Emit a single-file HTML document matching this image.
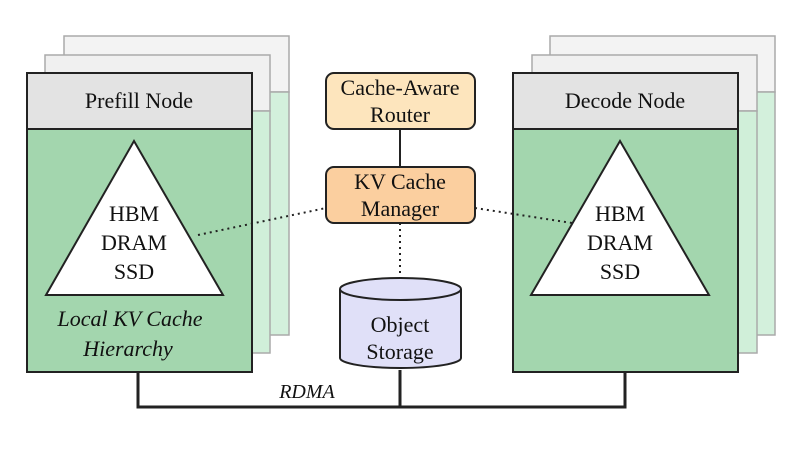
<!DOCTYPE html>
<html><head><meta charset="utf-8"><style>body{margin:0;background:#fff}</style></head><body>
<svg width="800" height="451" viewBox="0 0 800 451" xmlns="http://www.w3.org/2000/svg" font-family="Liberation Serif, serif" font-size="22" fill="#111">
<g stroke="#aaa" stroke-width="1.5">
<rect x="64" y="36" width="225" height="56" fill="#f3f3f3"/><rect x="64" y="92" width="225" height="243" fill="#d3f0dc"/>
<rect x="45" y="55" width="225" height="56" fill="#f0f0f0"/><rect x="45" y="111" width="225" height="242" fill="#d0efd9"/>
<rect x="550" y="36" width="225" height="56" fill="#f3f3f3"/><rect x="550" y="92" width="225" height="243" fill="#d3f0dc"/>
<rect x="532" y="55" width="225" height="56" fill="#f0f0f0"/><rect x="532" y="111" width="225" height="242" fill="#d0efd9"/>
</g>
<g stroke="#222" stroke-width="2">
<rect x="27" y="73" width="225" height="56" fill="#e3e3e3"/><rect x="27" y="129" width="225" height="243" fill="#a3d6ae"/>
<rect x="513" y="73" width="225" height="56" fill="#e3e3e3"/><rect x="513" y="129" width="225" height="243" fill="#a3d6ae"/>
<polygon points="134,141 46,295 223,295" fill="#fff"/>
<polygon points="620,141 531,295 709,295" fill="#fff"/>
</g>
<g fill="none" stroke="#222" stroke-width="3">
<polyline points="138,372 138,407 625,407 625,372"/>
<line x1="400" y1="370" x2="400" y2="407"/>
</g>
<line x1="400" y1="129" x2="400" y2="167" stroke="#222" stroke-width="2"/>
<g stroke="#222" stroke-width="2" stroke-dasharray="2,4" fill="none">
<line x1="198" y1="235" x2="326" y2="208"/>
<line x1="475" y1="208" x2="572" y2="223"/>
<line x1="400" y1="223" x2="400" y2="278"/>
</g>
<rect x="326" y="73" width="149" height="56" rx="8" fill="#fde5bd" stroke="#222" stroke-width="2"/>
<rect x="326" y="167" width="149" height="56" rx="8" fill="#fbcf9f" stroke="#222" stroke-width="2"/>
<path d="M340,289 L340,358 A60.5,10 0 0 0 461,358 L461,289" fill="#e0e0f8" stroke="#222" stroke-width="2"/>
<ellipse cx="400.5" cy="289" rx="60.5" ry="11" fill="#e0e0f8" stroke="#222" stroke-width="2"/>
<g text-anchor="middle">
<text x="139" y="108">Prefill Node</text>
<text x="625" y="108">Decode Node</text>
<text x="134" y="221">HBM</text><text x="134" y="250">DRAM</text><text x="134" y="279">SSD</text>
<text x="620" y="221">HBM</text><text x="620" y="250">DRAM</text><text x="620" y="279">SSD</text>
<text x="130" y="326" font-style="italic">Local KV Cache</text>
<text x="128" y="356" font-style="italic">Hierarchy</text>
<text x="400" y="95">Cache-Aware</text><text x="400" y="122">Router</text>
<text x="400" y="189">KV Cache</text><text x="400" y="216">Manager</text>
<text x="400" y="332">Object</text><text x="400" y="359">Storage</text>
<text x="307" y="398" font-style="italic" font-size="20">RDMA</text>
</g>
</svg>
</body></html>
